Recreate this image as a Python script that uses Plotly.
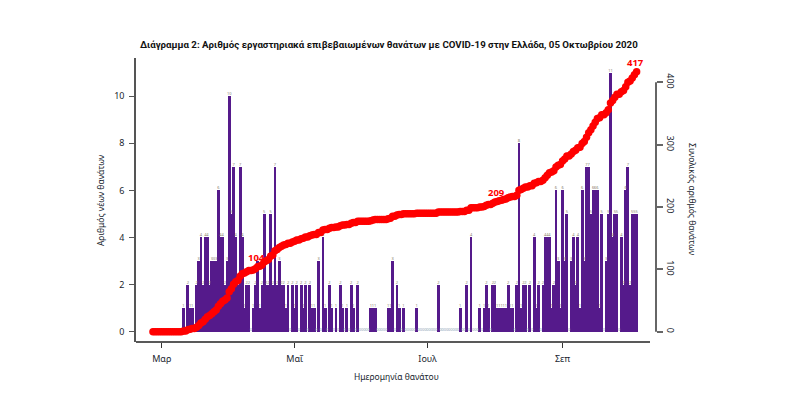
import numpy as np
import pandas as pd
import plotly.graph_objects as go

# ---------------- data ----------------
start_date = "2020-02-26"
daily_deaths = [
    # Feb 26 - Mar 10 (days 0-13)
    0, 0, 0, 0, 0, 0, 0, 0, 0, 0, 0, 0, 0, 0,
    # days 14-48
    1, 0, 2, 1, 1, 0, 2, 3, 4, 2, 4, 4, 2, 3, 3, 3, 6, 4, 4, 2, 3,
    10, 5, 7, 4, 2, 7, 4, 1, 2, 2, 0, 1, 2, 3,
    # days 49-60
    1, 2, 5, 2, 2, 5, 2, 7, 2, 3, 2, 2,
    # days 61-96
    1, 2, 0, 2, 1, 2, 0, 2, 1, 2, 0, 2, 1, 1, 0, 3, 0, 4, 1, 0,
    2, 1, 0, 1, 0, 2, 1, 0, 1, 0, 2, 1, 0, 2, 0, 0,
    # days 97-126
    0, 0, 0, 1, 1, 1, 0, 0, 0, 0, 0, 1, 1, 3, 0, 2, 1, 0, 1, 0,
    0, 0, 0, 0, 1, 0, 0, 0, 0, 0,
    # days 127-163
    0, 0, 0, 0, 2, 0, 0, 0, 0, 0, 0, 0, 0, 0, 1, 0, 0, 2, 0, 4,
    0, 0, 0, 1, 0, 1, 2, 1, 0, 2, 2, 1, 1, 1, 1, 1, 2,
    # days 164-222
    1, 1, 0, 2, 8, 1, 2, 2, 0, 2,
    0, 4, 1, 2, 0, 2, 4, 4, 4, 1,
    2, 6, 3, 1, 6, 3, 5, 0, 3, 4,
    2, 4, 1, 6, 3, 7, 7, 5, 6, 6,
    6, 1, 5, 0, 3, 5, 11, 4, 5, 5,
    0, 4, 2, 6, 7, 2, 5, 5, 5,
]
milestones = [104, 209, 417]

month_tick_dates = ["2020-03-01", "2020-05-01", "2020-07-01", "2020-09-01"]
month_tick_labels = ["Μαρ", "Μαΐ", "Ιουλ", "Σεπ"]
left_ticks = [0, 2, 4, 6, 8, 10]
right_ticks = [0, 100, 200, 300, 400]

title_text = "Διάγραμμα 2: Αριθμός εργαστηριακά επιβεβαιωμένων θανάτων με COVID-19 στην Ελλάδα, 05 Οκτωβρίου 2020"
x_title = "Ημερομηνία θανάτου"
y_title = "Αριθμός νέων θανάτων"
y2_title = "Συνολικός αριθμός θανάτων"

# ---------------- derived ----------------
dates = pd.date_range(start_date, periods=len(daily_deaths), freq="D")
cumulative = np.cumsum(daily_deaths)

FONT = "Noto Sans"
TITLE_FONT = "Roboto"
PURPLE = "#551A8B"
RED = "#FF0000"
TXT = "#1a1f30"

label_colors = ["#8aa0b4" if v == 0 else "#8a8070" for v in daily_deaths]

fig = go.Figure()
fig.add_trace(go.Bar(
    x=dates, y=daily_deaths, width=1.3 * 86400000,
    marker=dict(color=PURPLE, line=dict(width=0)),
    hoverinfo="skip",
))
fig.add_trace(go.Scatter(
    x=dates, y=daily_deaths, mode="text",
    text=[str(v) for v in daily_deaths], textposition="top center",
    textfont=dict(size=4, color=label_colors, family=FONT),
    hoverinfo="skip",
))
fig.add_trace(go.Scatter(
    x=dates, y=cumulative, yaxis="y2", mode="lines+markers",
    line=dict(color=RED, width=3),
    marker=dict(color=RED, size=7.5),
    hoverinfo="skip",
))

annotations = []
for m in milestones:
    idx = int(np.argmax(cumulative >= m))
    annotations.append(dict(
        x=dates[idx], y=int(cumulative[idx]), xref="x", yref="y2",
        text=f"<b>{m}</b>", showarrow=False, yshift=9, xshift=-1,
        font=dict(family=FONT, size=9.5, color=RED),
    ))

annotations += [
    dict(text=f"<b>{title_text}</b>", xref="paper", yref="paper",
         x=0.4856, y=1.049, showarrow=False, xanchor="center", yanchor="middle",
         font=dict(family=TITLE_FONT, size=9.7, color="#111111")),
    dict(text=x_title, xref="paper", yref="paper", x=0.5, y=-0.12,
         showarrow=False, xanchor="center", yanchor="middle",
         font=dict(family=FONT, size=8.5, color=TXT)),
    dict(text=y_title, xref="paper", yref="paper", x=-0.069, y=0.5,
         showarrow=False, textangle=-90, xanchor="center", yanchor="middle",
         font=dict(family=FONT, size=8.5, color=TXT)),
    dict(text=y2_title, xref="paper", yref="paper", x=1.071, y=0.5,
         showarrow=False, textangle=90, xanchor="center", yanchor="middle",
         font=dict(family=FONT, size=8.5, color=TXT)),
]

shapes = [
    dict(type="line", xref="paper", yref="paper", x0=0, x1=0.9885, y0=0, y1=0,
         line=dict(color="#222222", width=1.3)),
    dict(type="line", xref="paper", yref="y2", x0=1, x1=1,
         y0=right_ticks[0], y1=right_ticks[-1],
         line=dict(color="#666666", width=2)),
]

# page body has an 8px default margin: size the figure so the plot area
# lands at x 136-656, y 58-342 in the window
fig.update_layout(
    width=786, height=391,
    margin=dict(l=128, r=138, t=50, b=57),
    plot_bgcolor="white", paper_bgcolor="white",
    showlegend=False, bargap=0,
    font=dict(family=FONT, size=9, color=TXT),
    xaxis=dict(
        type="date", range=["2020-02-18 04:48", "2020-10-13 21:36"],
        tickvals=month_tick_dates, ticktext=month_tick_labels,
        ticks="outside", ticklen=5, tickcolor="#333333", tickwidth=1,
        ticklabelstandoff=3,
        showline=False, showgrid=False, zeroline=False,
        tickfont=dict(family=FONT, size=9, color=TXT),
    ),
    yaxis=dict(
        range=[-0.437, 11.62], tickvals=left_ticks,
        ticks="outside", ticklen=5, tickcolor="#555555",
        ticklabelstandoff=3,
        showline=True, linecolor="#555555", linewidth=1.5,
        showgrid=False, zeroline=False,
        tickfont=dict(family=FONT, size=9, color=TXT),
    ),
    yaxis2=dict(
        overlaying="y", side="right", range=[-16.5, 439.0], tickvals=right_ticks,
        ticks="outside", ticklen=6, tickcolor="#666666", tickwidth=1.5,
        tickangle=90, showline=False, showgrid=False, zeroline=False,
        tickfont=dict(family=FONT, size=9, color=TXT),
    ),
    annotations=annotations, shapes=shapes,
)

fig.write_html("out.html")
